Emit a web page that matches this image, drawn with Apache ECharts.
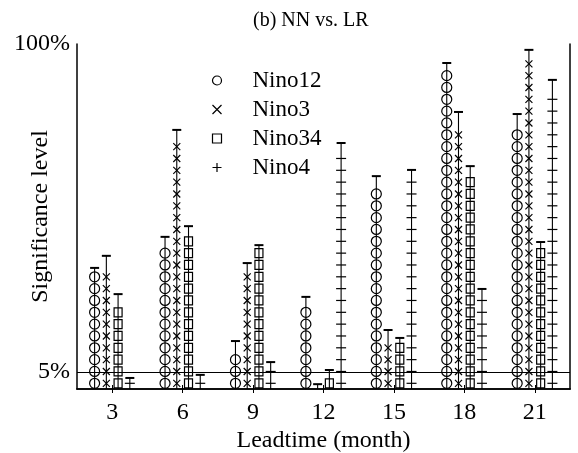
<!DOCTYPE html>
<html><head><meta charset="utf-8">
<script src="https://cdn.jsdelivr.net/npm/echarts@6/dist/echarts.min.js"></script>
<style>html,body{margin:0;padding:0;background:#fff}#c{width:578px;height:453px}</style>
</head><body><div id="c"></div>
<script>
// ---- data ----
const leads = [3, 6, 9, 12, 15, 18, 21];
const xTickLabels = ['3', '6', '9', '12', '15', '18', '21'];
const yTickValues = [5, 100];
// significance level (%) at the cap of each bar
const nino12Level = [35.1, 44.1, 13.9, 26.7, 61.7, 94.5, 79.7];
const nino3Level  = [38.6, 75.1, 36.5, 1.4, 17.1, 80.3, 98.3];
const nino34Level = [27.5, 47.2, 41.7, 5.5, 14.8, 64.6, 42.6];
const nino4Level  = [3.2, 4.1, 7.8, 71.3, 63.5, 29.0, 89.6];
// number of symbols stacked on each bar
const nino12Marks = [10, 12, 3, 7, 17, 27, 22];
const nino3Marks  = [10, 21, 10, 0, 4, 22, 28];
const nino34Marks = [7, 13, 12, 1, 4, 18, 12];
const nino4Marks  = [1, 1, 2, 20, 18, 8, 25];
const seriesNames = ['Nino12', 'Nino3', 'Nino34', 'Nino4'];

// ---- drawing ----
const FONT = 'Liberation Serif';
const offsets = [-0.75, -0.25, 0.25, 0.75];
const kinds = ['circle', 'cross', 'square', 'plus'];
const MARK0 = 1.65, MARKSTEP = 3.43; // symbol grid in axis units
const stroke = { stroke: '#000', fill: 'none', lineWidth: 1.2 };

function symbolShape(kind, cx, cy) {
  if (kind === 'circle') return { type: 'circle', shape: { cx, cy, r: 5 }, style: stroke };
  if (kind === 'square') return { type: 'rect', shape: { x: cx - 4, y: cy - 4.5, width: 8, height: 9 }, style: stroke };
  if (kind === 'cross') return { type: 'group', children: [
    { type: 'line', shape: { x1: cx - 3.5, y1: cy - 3.5, x2: cx + 3.5, y2: cy + 3.5 }, style: stroke },
    { type: 'line', shape: { x1: cx - 3.5, y1: cy + 3.5, x2: cx + 3.5, y2: cy - 3.5 }, style: stroke }] };
  return { type: 'line', shape: { x1: cx - 5, y1: cy, x2: cx + 5, y2: cy }, style: stroke };
}

function makeRender(si) {
  return function (params, api) {
    const x = api.value(0) + offsets[si];
    const level = api.value(1);
    const n = api.value(2);
    const base = api.coord([x, 0]);
    const top = api.coord([x, level]);
    const children = [
      { type: 'line', shape: { x1: base[0], y1: base[1], x2: top[0], y2: top[1] }, style: { stroke: '#000', lineWidth: 1.1 } },
      { type: 'line', shape: { x1: top[0] - 4.5, y1: top[1], x2: top[0] + 4.5, y2: top[1] }, style: { stroke: '#000', lineWidth: 2 } }
    ];
    for (let k = 0; k < n; k++) {
      const p = api.coord([x, MARK0 + MARKSTEP * k]);
      children.push(symbolShape(kinds[si], p[0], p[1]));
    }
    return { type: 'group', children };
  };
}

const levels = [nino12Level, nino3Level, nino34Level, nino4Level];
const marks = [nino12Marks, nino3Marks, nino34Marks, nino4Marks];
const legendIcons = ['circle', 'path://M0,0L10,10M10,0L0,10', 'rect', 'path://M5,0L5,10M0,5L10,5'];

const series = seriesNames.map((name, si) => ({
  name, type: 'custom', renderItem: makeRender(si),
  itemStyle: { color: 'none', borderColor: '#000', borderWidth: 1.2 },
  data: leads.map((l, i) => [l, levels[si][i], marks[si][i]]),
  encode: { x: 0, y: 1 },
  silent: true, animation: false, z: 3
}));
series[0].markLine = {
  silent: true, symbol: 'none', label: { show: false },
  lineStyle: { color: '#000', width: 1, type: 'solid' },
  data: [{ yAxis: 5 }], animation: false
};

const axisText = { color: '#000', fontFamily: FONT, fontSize: 24 };
const chart = echarts.init(document.getElementById('c'), null, { renderer: 'canvas' });
chart.setOption({
  animation: false,
  backgroundColor: '#fff',
  title: { text: '(b) NN vs. LR', left: 248, top: 6, textStyle: { color: '#000', fontFamily: FONT, fontSize: 20, fontWeight: 'normal' } },
  grid: { left: 77, right: 8, top: 44, bottom: 64, show: false, containLabel: false, outerBoundsMode: 'none' },
  legend: {
    orient: 'vertical', left: 205, top: 64, itemWidth: 9, itemHeight: 9, itemGap: 6,
    textStyle: { color: '#000', fontFamily: FONT, fontSize: 23, lineHeight: 21, padding: [0, 0, 0, 26] },
    data: seriesNames.map((n, i) => ({ name: n, icon: legendIcons[i], itemStyle: { color: 'none', borderColor: '#000', borderWidth: 1.2 } })),
    selectedMode: false
  },
  xAxis: [{
    type: 'value', min: 1.5, max: 22.5, position: 'bottom',
    name: 'Leadtime (month)', nameLocation: 'middle', nameGap: 40, nameMoveOverlap: false,
    nameTextStyle: axisText,
    axisLine: { lineStyle: { color: '#000', width: 1.5 } },
    axisTick: { inside: true, length: 4, customValues: leads, lineStyle: { color: '#000' } },
    axisLabel: { customValues: leads, formatter: v => xTickLabels[leads.indexOf(v)], margin: 12, ...axisText },
    splitLine: { show: false }
  }, {
    type: 'value', min: 1.5, max: 22.5, position: 'top',
    axisLine: { lineStyle: { color: '#000', width: 1.5 } },
    axisTick: { inside: true, length: 4, customValues: leads, lineStyle: { color: '#000' } },
    axisLabel: { show: false }, splitLine: { show: false }
  }],
  yAxis: [{
    type: 'value', min: 0, max: 100, position: 'left',
    name: 'Significance level', nameLocation: 'middle', nameGap: 24, nameMoveOverlap: false, nameTextStyle: axisText,
    axisLine: { lineStyle: { color: '#000', width: 1.5 } },
    axisTick: { show: false },
    axisLabel: { customValues: yTickValues, formatter: v => v + '%', margin: 7, ...axisText },
    splitLine: { show: false }
  }, {
    type: 'value', min: 0, max: 100, position: 'right',
    axisLine: { show: true, lineStyle: { color: '#000', width: 1.5 } },
    axisTick: { show: false }, axisLabel: { show: false }, splitLine: { show: false }
  }],
  series
});
</script></body></html>
